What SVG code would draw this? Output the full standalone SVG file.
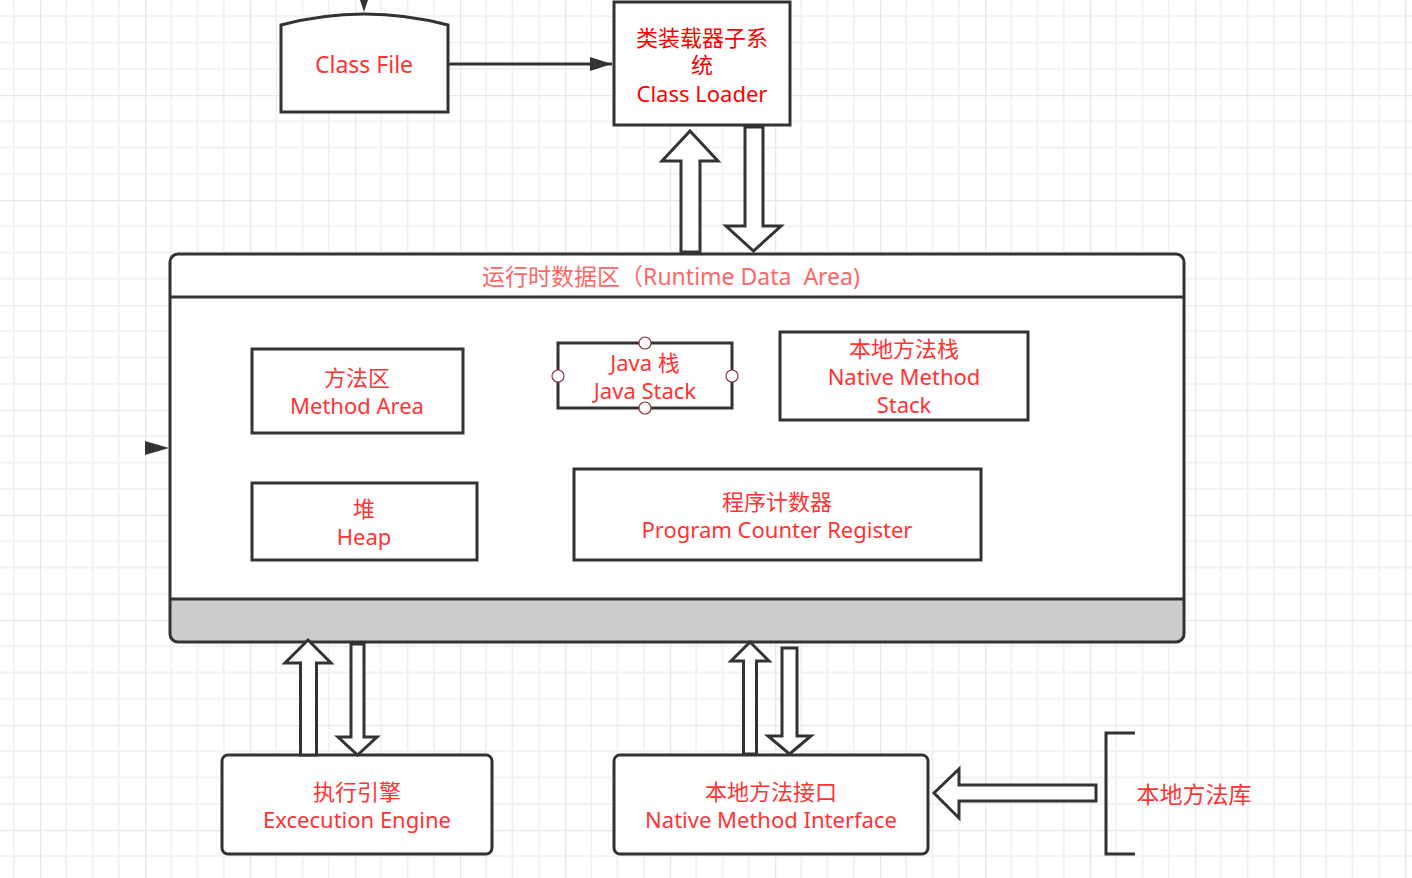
<svg xmlns="http://www.w3.org/2000/svg" width="1412" height="878" viewBox="0 0 1412 878">
<style>
text{font-family:"Noto Sans","Noto Sans CJK SC",sans-serif;font-size:22px;fill:#ff3333;text-anchor:middle;dominant-baseline:central}
.box{fill:#ffffff;stroke:#333333;stroke-width:3}
.barrow{fill:#ffffff;stroke:#333333;stroke-width:3;stroke-linejoin:miter}
.line{fill:none;stroke:#333333;stroke-width:3}
.handle{fill:#ffffff;stroke:#8b3a3a;stroke-width:1.2}
</style>
<defs>
<pattern id="grid" x="40" y="95" width="105" height="105" patternUnits="userSpaceOnUse">
<path d="M26.25 0V105M52.5 0V105M78.75 0V105M0 26.25H105M0 52.5H105M0 78.75H105" stroke="#f2f2f2" stroke-width="2" fill="none"/>
<path d="M0 0V105M0 0H105" stroke="#e8e8e8" stroke-width="2.5" fill="none"/>
</pattern>
<marker id="arr" markerWidth="22" markerHeight="14" refX="22" refY="7" orient="auto" markerUnits="userSpaceOnUse">
<path d="M0,0 L22,7 L0,14 Z" fill="#333333"/>
</marker>
</defs>
<rect width="1412" height="878" fill="#ffffff"/>
<rect width="1412" height="878" fill="url(#grid)"/>

<g id="class-file">
<path class="box" d="M281,25 Q364,3 448,25 L448,112 L281,112 Z"/>
<text x="364" y="64" style="font-size:23px">Class File</text>
</g>

<g id="class-loader">
<rect class="box" x="614" y="2" width="176" height="123"/>
<text x="702" y="36.5" style="fill:#ff0000">类装载器子系</text>
<text x="702" y="64" style="fill:#ff0000">统</text>
<text x="702" y="92.5" style="fill:#ff0000">Class Loader</text>
</g>

<g id="runtime-data-area">
<rect x="170" y="254" width="1014" height="388" rx="8" ry="8" fill="#ffffff"/>
<path d="M170,599 H1184 V634 Q1184,642 1176,642 H178 Q170,642 170,634 Z" fill="#cccccc"/>
<rect x="170" y="254" width="1014" height="388" rx="8" ry="8" fill="none" stroke="#333333" stroke-width="3"/>
<line class="line" x1="170" y1="297" x2="1184" y2="297"/>
<line class="line" x1="170" y1="599" x2="1184" y2="599"/>
<text x="671" y="276" style="fill:#ff6666;font-size:23px">运行时数据区（Runtime Data&#160; Area)</text>
</g>

<g id="method-area">
<rect class="box" x="252" y="349" width="211" height="84"/>
<text x="357" y="377">方法区</text>
<text x="357" y="405">Method Area</text>
</g>

<g id="java-stack">
<rect class="box" x="558" y="343" width="174" height="65"/>
<text x="645" y="362">Java 栈</text>
<text x="645" y="390">Java Stack</text>
<circle class="handle" cx="645" cy="343" r="6"/>
<circle class="handle" cx="558" cy="376" r="6"/>
<circle class="handle" cx="732" cy="376" r="6"/>
<circle class="handle" cx="645" cy="408" r="6"/>
</g>

<g id="native-method-stack">
<rect class="box" x="780" y="332" width="248" height="88"/>
<text x="904" y="348">本地方法栈</text>
<text x="904" y="376">Native Method</text>
<text x="904" y="404">Stack</text>
</g>

<g id="heap">
<rect class="box" x="252" y="483" width="225" height="77"/>
<text x="364" y="508">堆</text>
<text x="364" y="536">Heap</text>
</g>

<g id="program-counter">
<rect class="box" x="574" y="469" width="407" height="91"/>
<text x="777" y="501">程序计数器</text>
<text x="777" y="529">Program Counter Register</text>
</g>

<g id="execution-engine">
<rect class="box" x="222" y="755" width="270" height="99" rx="6" ry="6"/>
<text x="357" y="791">执行引擎</text>
<text x="357" y="819">Excecution Engine</text>
</g>

<g id="native-method-interface">
<rect class="box" x="614" y="755" width="314" height="99" rx="6" ry="6"/>
<text x="771" y="791">本地方法接口</text>
<text x="771" y="819">Native Method Interface</text>
</g>

<g id="native-method-library">
<path class="line" d="M1135,733 H1106 V854 H1135"/>
<text x="1194" y="794" style="font-size:23px">本地方法库</text>
</g>

<g id="connectors">
<line class="line" x1="364" y1="0" x2="364" y2="1"/>
<path d="M360,0 L368,0 L364,12 Z" fill="#333333"/>
<line class="line" x1="448" y1="64" x2="612" y2="64" marker-end="url(#arr)"/>
<path d="M145,441 L169,448 L145,455 Z" fill="#333333"/>
<polygon class="barrow" points="690,131 718,161 700,161 700,252 681,252 681,161 662,161"/>
<polygon class="barrow" points="745,127 763,127 763,226 781,226 753.5,251 726,226 745,226"/>
<polygon class="barrow" points="308,640 331,663 316.5,663 316.5,755 300.5,755 300.5,663 285,663"/>
<polygon class="barrow" points="351,644 364,644 364,737 377,737 357.5,755 338,737 351,737"/>
<polygon class="barrow" points="750,642 769,661 756.5,661 756.5,754 743.5,754 743.5,661 731,661"/>
<polygon class="barrow" points="782,648 797,648 797,736 811,736 789.5,754 768,736 782,736"/>
<polygon class="barrow" points="934,793 959,769 959,785 1096,785 1096,801 959,801 959,818"/>
</g>
</svg>
